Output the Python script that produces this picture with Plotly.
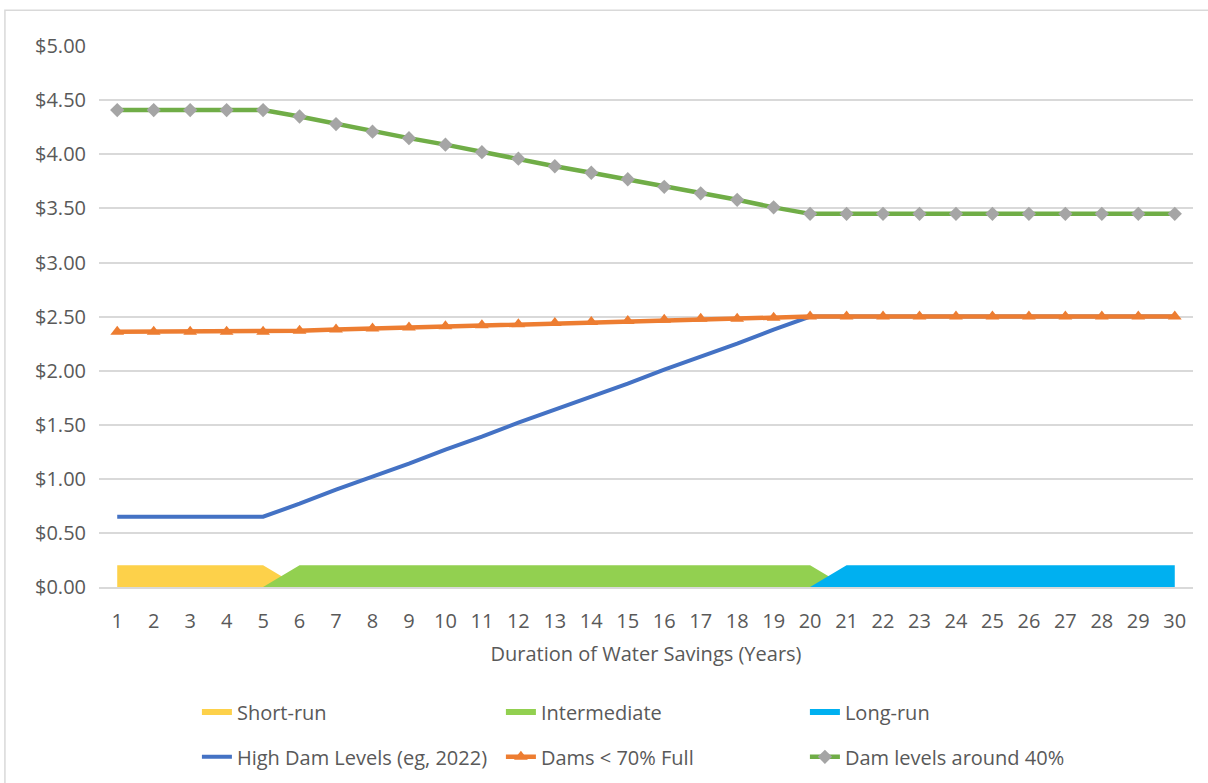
import plotly.graph_objects as go

# Duration of water savings, in years
years = list(range(1, 31))

# Value of water savings ($) under three dam-level scenarios
high_dam_levels = [0.65, 0.65, 0.65, 0.65, 0.65, 0.77, 0.90, 1.02, 1.14, 1.27,
                   1.39, 1.52, 1.64, 1.76, 1.88, 2.01, 2.13, 2.25, 2.38, 2.50,
                   2.50, 2.50, 2.50, 2.50, 2.50, 2.50, 2.50, 2.50, 2.50, 2.50]
dams_below_70 = [2.36, 2.36, 2.36, 2.36, 2.36, 2.37, 2.38, 2.39, 2.40, 2.41,
                 2.42, 2.43, 2.44, 2.45, 2.46, 2.47, 2.48, 2.48, 2.49, 2.50,
                 2.50, 2.50, 2.50, 2.50, 2.50, 2.50, 2.50, 2.50, 2.50, 2.50]
dams_around_40 = [4.41, 4.41, 4.41, 4.41, 4.41, 4.35, 4.28, 4.21, 4.15, 4.09,
                  4.02, 3.96, 3.89, 3.83, 3.77, 3.70, 3.64, 3.58, 3.51, 3.45,
                  3.45, 3.45, 3.45, 3.45, 3.45, 3.45, 3.45, 3.45, 3.45, 3.45]

# Time-horizon bands along the bottom of the chart
short_run = [0.2] * 5 + [0.0] * 25
intermediate = [0.0] * 5 + [0.2] * 15 + [0.0] * 10
long_run = [0.0] * 20 + [0.2] * 10

FONT = "Open Sans"
FS = 20
TEXT = "#595959"
GRID = "#d9d9d9"

fig = go.Figure()

for name, vals, col in [("Short-run", short_run, "#fdd14a"),
                        ("Intermediate", intermediate, "#92d050"),
                        ("Long-run", long_run, "#00b0f0")]:
    fig.add_trace(go.Scatter(x=years, y=vals, name=name, mode="none",
                             fill="tozeroy", fillcolor=col, legend="legend",
                             hoverinfo="skip"))

fig.add_trace(go.Scatter(x=years, y=high_dam_levels, name="High Dam Levels (eg, 2022)",
                         mode="lines", line=dict(color="#4472c4", width=4),
                         legend="legend2"))
fig.add_trace(go.Scatter(x=years, y=dams_below_70, name="Dams < 70% Full",
                         mode="lines+markers", line=dict(color="#ed7d31", width=4.5),
                         marker=dict(symbol="triangle-up", size=12, color="#ed7d31"),
                         legend="legend2"))
fig.add_trace(go.Scatter(x=years, y=dams_around_40, name="Dam levels around 40%",
                         mode="lines+markers", line=dict(color="#70ad47", width=4.5),
                         marker=dict(symbol="diamond", size=11, color="#a5a5a5"),
                         legend="legend2"))

legend_common = dict(orientation="h", xanchor="left", yanchor="middle",
                     font=dict(family=FONT, size=FS, color=TEXT),
                     entrywidth=259, entrywidthmode="pixels",
                     bgcolor="rgba(0,0,0,0)", itemclick=False)

fig.update_layout(
    width=1208, height=783,
    margin=dict(l=99, r=15, t=46, b=196, autoexpand=False),
    paper_bgcolor="white", plot_bgcolor="white",
    font=dict(family=FONT, size=FS, color=TEXT),
    showlegend=True,
    legend=dict(x=0.0895, y=-0.231, traceorder="normal", **legend_common),
    legend2=dict(x=0.0895, y=-0.314, traceorder="normal", **legend_common),
    xaxis=dict(range=[0.5, 30.5], tickmode="array", tickvals=years,
               ticktext=[str(v) for v in years], showgrid=False, zeroline=False,
               showline=True, linecolor=GRID, linewidth=1.5, ticks="",
               ticklabelstandoff=15,
               tickfont=dict(family=FONT, size=FS, color=TEXT),
               title=dict(text="Duration of Water Savings (Years)", standoff=14,
                          font=dict(family=FONT, size=FS, color=TEXT))),
    yaxis=dict(range=[0, 5.002], dtick=0.5, tick0=0, tickformat="$.2f",
               showgrid=True, gridcolor=GRID, gridwidth=1.5, zeroline=False,
               showline=False, ticks="", ticklabelstandoff=12,
               tickfont=dict(family=FONT, size=FS, color=TEXT)),
    shapes=[dict(type="rect", xref="paper", yref="paper",
                 x0=-0.086, x1=1.06, y0=-0.6, y1=1.066,
                 line=dict(color=GRID, width=1.5), fillcolor="rgba(0,0,0,0)",
                 layer="below")],
)

fig.write_html("out.html")
